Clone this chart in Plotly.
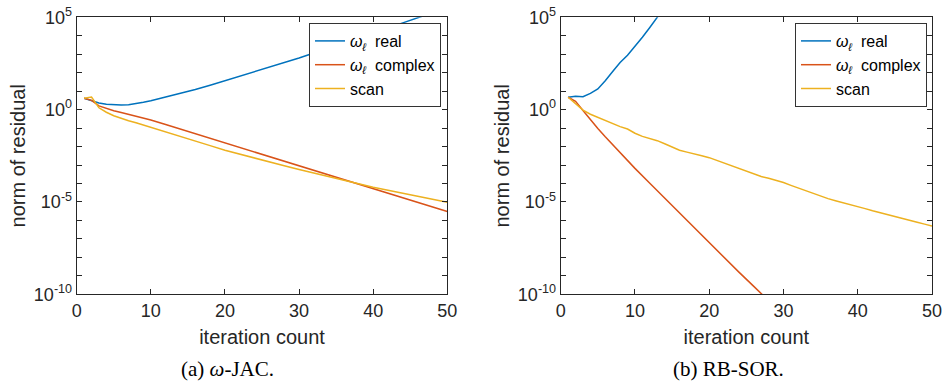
import numpy as np
import plotly.graph_objects as go

# ---------------- data (log10 of residual norm) ----------------
iters_jac = [1, 2, 3, 4, 5, 6, 7, 8, 9, 10, 12, 14, 16, 18, 20, 22, 24, 26, 28, 30,
             32, 34, 36, 38, 40, 42, 44, 46, 48, 50]
jac_real_log10 = [0.62, 0.50, 0.36, 0.29, 0.26, 0.25, 0.27, 0.32, 0.40, 0.48, 0.67, 0.87,
                  1.09, 1.32, 1.56, 1.80, 2.05, 2.30, 2.55, 2.80, 3.07, 3.35, 3.62, 3.89,
                  4.16, 4.43, 4.70, 4.97, 5.25, 5.52]
jac_complex_log10 = [0.62, 0.50, 0.20, 0.06, -0.06, -0.16, -0.26, -0.34, -0.44, -0.56,
                     -0.81, -1.06, -1.30, -1.55, -1.80, -2.05, -2.30, -2.54, -2.79, -3.04,
                     -3.29, -3.54, -3.78, -4.03, -4.28, -4.53, -4.78, -5.02, -5.27, -5.52]
jac_scan_log10 = [0.62, 0.68, 0.10, -0.14, -0.33, -0.48, -0.60, -0.71, -0.83, -0.95,
                  -1.20, -1.45, -1.70, -1.95, -2.20, -2.42, -2.63, -2.84, -3.04, -3.24,
                  -3.44, -3.64, -3.83, -4.02, -4.20, -4.37, -4.54, -4.70, -4.86, -5.02]

iters_sor_real = [1, 2, 3, 4, 5, 6, 7, 8, 9, 10, 11, 12, 13, 14]
sor_real_log10 = [0.67, 0.72, 0.70, 0.88, 1.12, 1.56, 2.06, 2.55, 2.95, 3.42, 3.92, 4.45,
                  5.00, 5.55]
iters_sor_complex = [1, 2, 3, 4, 5, 6, 7, 8, 9, 10, 12, 14, 16, 18, 20, 22, 24, 26, 28]
sor_complex_log10 = [0.67, 0.45, -0.05, -0.55, -1.02, -1.47, -1.90, -2.32, -2.74, -3.18,
                     -3.99, -4.80, -5.60, -6.40, -7.20, -8.00, -8.80, -9.57, -10.35]
iters_sor_scan = list(range(1, 51))
sor_scan_log10 = [0.67, 0.30, -0.03, -0.25, -0.42, -0.60, -0.78, -0.92, -1.05, -1.28,
                  -1.45, -1.55, -1.68, -1.85, -2.02, -2.20, -2.30, -2.38, -2.50, -2.60,
                  -2.75, -2.90, -3.05, -3.20, -3.35, -3.50, -3.62, -3.72, -3.83, -3.95,
                  -4.10, -4.24, -4.40, -4.55, -4.70, -4.82, -4.93, -5.03, -5.14, -5.25,
                  -5.36, -5.48, -5.59, -5.70, -5.80, -5.90, -6.00, -6.10, -6.20, -6.30]

series_names = ["<i>ω</i><sub><i>ℓ</i></sub>  real",
                "<i>ω</i><sub><i>ℓ</i></sub>  complex",
                "scan"]
series_colors = ["#0072BD", "#D95319", "#EDB120"]
captions = ["(a) <i>ω</i>-JAC.", "(b) RB-SOR."]
x_ticks = [0, 10, 20, 30, 40, 50]
y_decades = list(range(-10, 6))
y_labeled = {-10: "10<sup>-10</sup>", -5: "10<sup>-5</sup>", 0: "10<sup>0</sup>", 5: "10<sup>5</sup>"}

# ---------------- figure ----------------
W, H = 942, 381
fig = go.Figure()

panels = [
    ("x", "y", "legend",
     [(iters_jac, jac_real_log10), (iters_jac, jac_complex_log10), (iters_jac, jac_scan_log10)]),
    ("x2", "y2", "legend2",
     [(iters_sor_real, sor_real_log10), (iters_sor_complex, sor_complex_log10),
      (iters_sor_scan, sor_scan_log10)]),
]
for xa, ya, lg, series in panels:
    for (xs, ys), name, col in zip(series, series_names, series_colors):
        fig.add_trace(go.Scatter(
            x=xs, y=10.0 ** np.array(ys), mode="lines", name=name,
            line=dict(color=col, width=1.5), xaxis=xa, yaxis=ya, legend=lg))

axcol = "#262626"
tickfont = dict(family="Liberation Sans, Arial, sans-serif", size=18, color=axcol)
titlefont = dict(family="Liberation Sans, Arial, sans-serif", size=20, color=axcol)

def xaxis_cfg(dom):
    return dict(domain=dom, range=[0, 50], tickvals=x_ticks, ticks="inside", ticklen=5,
                tickcolor=axcol, showline=True, linecolor=axcol, linewidth=1,
                mirror="allticks", showgrid=False, zeroline=False, tickfont=tickfont,
                automargin=False, ticklabeloverflow="allow",
                title=dict(text="iteration count", font=titlefont, standoff=10))

def yaxis_cfg(anchor):
    return dict(domain=[(H - 294.3) / H, (H - 17.3) / H], type="log", range=[-10, 5],
                tickvals=[10.0 ** d for d in y_decades],
                ticktext=[y_labeled.get(d, "") for d in y_decades],
                ticks="inside", ticklen=5, tickcolor=axcol, showline=True,
                linecolor=axcol, linewidth=1, mirror="allticks", showgrid=False,
                zeroline=False, tickfont=tickfont, anchor=anchor, automargin=False,
                ticklabeloverflow="allow",
                title=dict(text="norm of residual", font=titlefont, standoff=2))

xd1 = [76.7 / W, 447.3 / W]
xd2 = [560.7 / W, 932.0 / W]

legcfg = dict(font=dict(family="Liberation Sans, Arial, sans-serif", size=16, color="#000000"),
              bgcolor="white", bordercolor="#333333", borderwidth=1,
              xanchor="right", yanchor="top", tracegroupgap=0, itemwidth=30)

fig.update_layout(
    width=W, height=H, margin=dict(l=0, r=0, t=0, b=0, autoexpand=False),
    paper_bgcolor="white", plot_bgcolor="white",
    xaxis=dict(**xaxis_cfg(xd1), anchor="y"),
    yaxis=yaxis_cfg("x"),
    xaxis2=dict(**xaxis_cfg(xd2), anchor="y2"),
    yaxis2=yaxis_cfg("x2"),
    legend=dict(**legcfg, x=441 / W, y=1 - 23 / H),
    legend2=dict(**legcfg, x=927 / W, y=1 - 23 / H),
    showlegend=True,
)

for txt, cx in zip(captions, [227.5, 728.0]):
    fig.add_annotation(text=txt, x=cx / W, y=(H - 368.5) / H, xref="paper", yref="paper",
                       showarrow=False, xanchor="center", yanchor="middle",
                       font=dict(family="Liberation Serif, serif", size=21, color="#000000"))

fig.write_html("out.html")
